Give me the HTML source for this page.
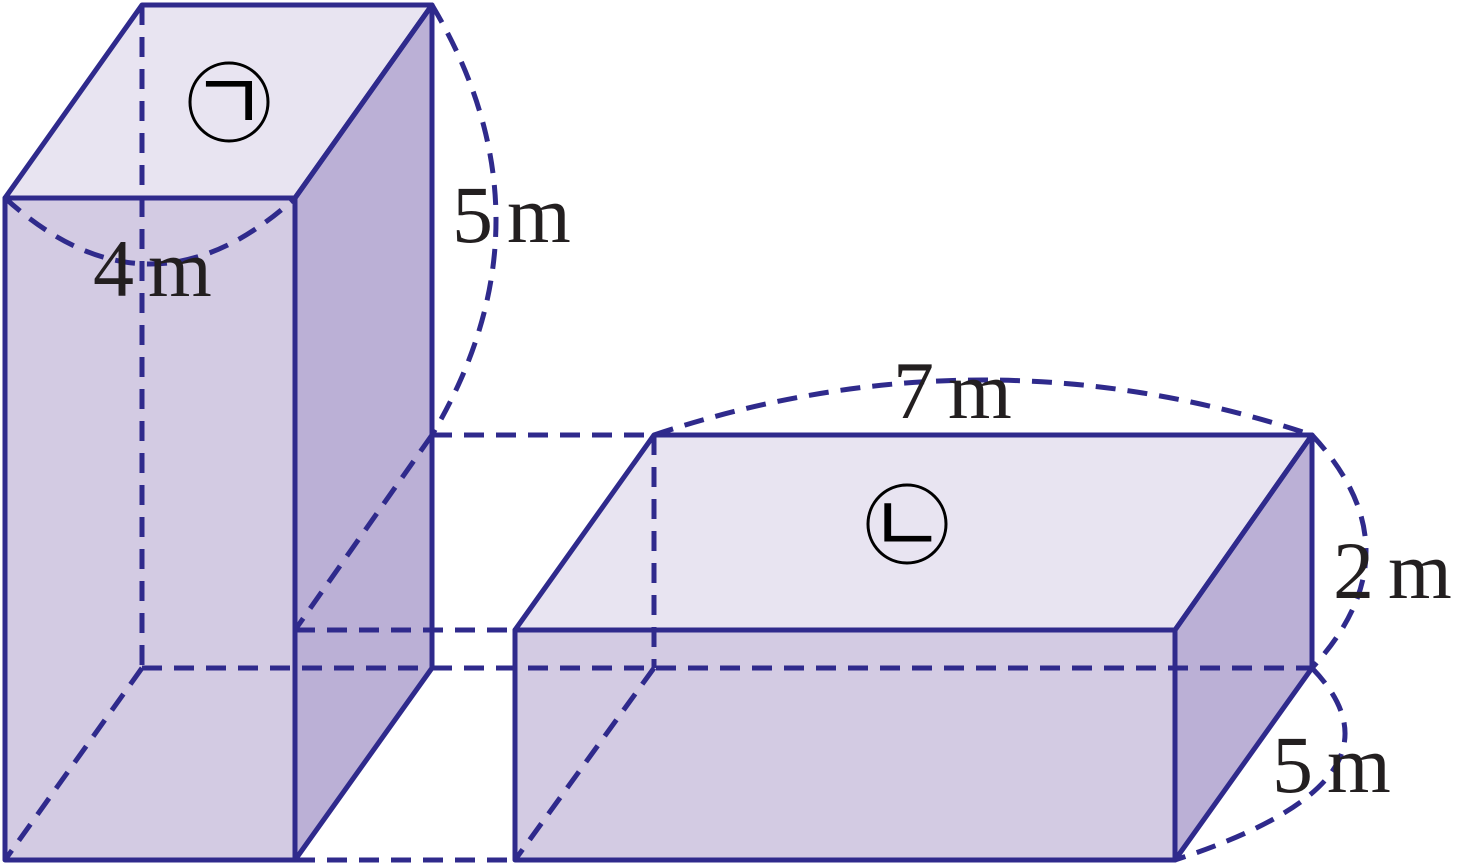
<!DOCTYPE html>
<html><head><meta charset="utf-8"><style>
html,body{margin:0;padding:0;background:#fff;}
svg{display:block;}
text{font-family:"Liberation Serif",serif;fill:#231f20;}
</style></head><body>
<svg width="1462" height="866" viewBox="0 0 1462 866" xmlns="http://www.w3.org/2000/svg">
<g stroke="none">
<polygon points="5,198 142,5 432,5 295,198" fill="#e8e4f1"/>
<polygon points="5,198 295,198 295,860 5,860" fill="#d3cbe3"/>
<polygon points="295,198 432,5 432,668 295,860" fill="#bbb0d6"/>
<polygon points="515,630 654,435 1312,435 1175,630" fill="#e8e4f1"/>
<polygon points="515,630 1175,630 1175,860 515,860" fill="#d3cbe3"/>
<polygon points="1175,630 1312,435 1312,668 1175,860" fill="#bbb0d6"/>
</g>
<g stroke="#2f2a8c" stroke-width="5" fill="none" stroke-dasharray="20,12">
<line x1="142" y1="5" x2="142" y2="668"/>
<line x1="142" y1="668" x2="432" y2="668"/>
<line x1="142" y1="668" x2="5" y2="860"/>
<line x1="654" y1="435" x2="654" y2="668"/>
<line x1="432" y1="668" x2="1312" y2="668"/>
<line x1="654" y1="668" x2="515" y2="860"/>
<line x1="432" y1="435" x2="654" y2="435"/>
<line x1="295" y1="630" x2="515" y2="630"/>
<line x1="432" y1="435" x2="295" y2="630"/>
<line x1="295" y1="860" x2="515" y2="860"/>
<path d="M432,5 Q560,220 432,435"/>
<path d="M5,198 Q150,330 295,198"/>
<path d="M654,435 Q983,325 1312,435"/>
<path d="M1312,435 Q1420,551 1312,668"/>
<path d="M1312,668 Q1420,780 1175,860"/>
</g>
<g stroke="#2f2a8c" stroke-width="5" fill="none" stroke-linejoin="round">
<polygon points="5,198 142,5 432,5 295,198"/>
<polygon points="5,198 295,198 295,860 5,860"/>
<polygon points="295,198 432,5 432,668 295,860"/>
<polygon points="515,630 654,435 1312,435 1175,630"/>
<polygon points="515,630 1175,630 1175,860 515,860"/>
<polygon points="1175,630 1312,435 1312,668 1175,860"/>
</g>
<circle cx="229" cy="102" r="39" fill="none" stroke="#000" stroke-width="3"/>
<circle cx="907" cy="524" r="39" fill="none" stroke="#000" stroke-width="3"/>
<text x="229" y="131" font-size="82" text-anchor="middle" style="font-family:'Noto Sans CJK KR',sans-serif;fill:#000">ㄱ</text>
<text x="907" y="553" font-size="82" text-anchor="middle" style="font-family:'Noto Sans CJK KR',sans-serif;fill:#000">ㄴ</text>
<text x="452" y="242" font-size="82">5<tspan dx="14">m</tspan></text>
<text x="93" y="296" font-size="82">4<tspan dx="14">m</tspan></text>
<text x="893" y="418" font-size="82">7<tspan dx="14">m</tspan></text>
<text x="1333" y="598" font-size="82">2<tspan dx="14">m</tspan></text>
<text x="1272" y="792" font-size="82">5<tspan dx="14">m</tspan></text>
</svg>
</body></html>
